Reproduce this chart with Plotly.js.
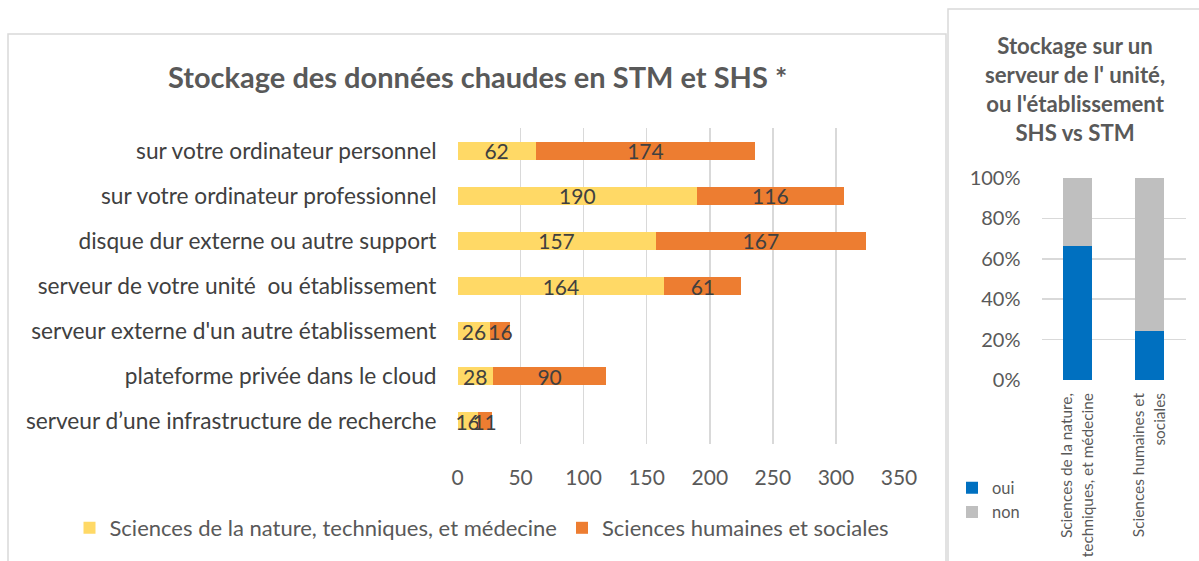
<!DOCTYPE html>
<html>
<head>
<meta charset="utf-8">
<script src="https://cdn.plot.ly/plotly-3.0.1.min.js"></script>
<style>
html,body{margin:0;padding:0;background:#fff;}
#chart{width:1199px;height:561px;}
</style>
</head>
<body>
<div id="chart"></div>
<script>
// ---- Data (left chart) ----
const categories = [
  "sur votre ordinateur personnel",
  "sur votre ordinateur professionnel",
  "disque dur externe ou autre support",
  "serveur de votre unité  ou établissement",
  "serveur externe d'un autre établissement",
  "plateforme privée dans le cloud",
  "serveur d’une infrastructure de recherche"
];
const stmValues = [62, 190, 157, 164, 26, 28, 16];
const shsValues = [174, 116, 167, 61, 16, 90, 11];
const seriesNames = ["Sciences de la nature, techniques, et médecine", "Sciences humaines et sociales"];
const xTicks = [0, 50, 100, 150, 200, 250, 300, 350];

// ---- Data (right chart) ----
const groups = ["Sciences de la nature,<br>techniques, et médecine", "Sciences humaines et<br>sociales"];
const ouiShare = [0.661, 0.243];
const nonShare = [0.339, 0.757];
const pctTicks = [0, 0.2, 0.4, 0.6, 0.8, 1.0];

const W = 1199, H = 561;
const px = x => x / W;
const py = y => 1 - y / H;

const FONT = "Lato, 'Open Sans', sans-serif";
const DARK = "#404040";
const MID = "#595959";
const GRID = "#D9D9D9";

const traces = [
  {
    type: "bar", orientation: "h", y: categories, x: stmValues, name: seriesNames[0],
    marker: {color: "#FFD966"}, text: stmValues.map(String), textposition: "inside",
    insidetextanchor: "middle", constraintext: "none", textangle: 0, cliponaxis: false,
    textfont: {family: FONT, size: 21, color: DARK},
    xaxis: "x", yaxis: "y", legend: "legend", hoverinfo: "x+name"
  },
  {
    type: "bar", orientation: "h", y: categories, x: shsValues, name: seriesNames[1],
    marker: {color: "#ED7D31"}, text: shsValues.map(String), textposition: "inside",
    insidetextanchor: "middle", constraintext: "none", textangle: 0, cliponaxis: false,
    textfont: {family: FONT, size: 21, color: DARK},
    xaxis: "x", yaxis: "y", legend: "legend", hoverinfo: "x+name"
  },
  {
    type: "bar", x: groups, y: ouiShare, name: "oui", marker: {color: "#0070C0"},
    xaxis: "x2", yaxis: "y2", legend: "legend2"
  },
  {
    type: "bar", x: groups, y: nonShare, name: "non", marker: {color: "#BFBFBF"},
    xaxis: "x2", yaxis: "y2", legend: "legend2"
  }
];

const layout = {
  width: W, height: H,
  margin: {l: 0, r: 0, t: 0, b: 0},
  paper_bgcolor: "#fff", plot_bgcolor: "#fff",
  font: {family: FONT, color: MID},
  barmode: "stack",
  bargap: 0.6,
  showlegend: true,
  xaxis: {
    domain: [px(457.5), px(899)], range: [0, 350], tickvals: xTicks,
    showgrid: true, gridcolor: GRID, gridwidth: 1.5, zeroline: false,
    showline: false, ticks: "", tickfont: {family: FONT, size: 21, color: MID},
    ticklabelstandoff: 19, anchor: "y", fixedrange: true
  },
  yaxis: {
    domain: [py(444), py(128)], type: "category", autorange: "reversed",
    showgrid: false, zeroline: false, showline: false, ticks: "",
    tickfont: {family: FONT, size: 22.7, color: DARK}, ticklabelstandoff: 20,
    anchor: "x", fixedrange: true
  },
  xaxis2: {
    domain: [px(1041.5), px(1185.5)], type: "category", showgrid: false,
    zeroline: false, showline: false, ticks: "", tickangle: -90,
    tickfont: {family: FONT, size: 15.4, color: MID}, ticklabelstandoff: 9,
    anchor: "y2", fixedrange: true
  },
  yaxis2: {
    domain: [py(380), py(178)], range: [0, 1], tickvals: pctTicks, tickformat: ".0%",
    showgrid: true, gridcolor: GRID, gridwidth: 1.5, zeroline: false, showline: false,
    ticks: "", tickfont: {family: FONT, size: 20, color: MID}, ticklabelstandoff: 20,
    anchor: "x2", fixedrange: true
  },
  legend: {
    orientation: "h", x: px(482), xanchor: "center", y: py(528), yanchor: "middle",
    font: {family: FONT, size: 22, color: MID}, itemclick: false, itemdoubleclick: false,
    traceorder: "normal", itemwidth: 30
  },
  legend2: {
    orientation: "v", x: px(952), xanchor: "left", y: py(500), yanchor: "middle",
    font: {family: FONT, size: 16.4, color: MID}, tracegroupgap: 0, traceorder: "normal",
    itemwidth: 30
  },
  annotations: [
    {
      xref: "paper", yref: "paper", x: px(477), y: py(77), xanchor: "center", yanchor: "middle",
      text: "<b>Stockage des données chaudes en STM et SHS *</b>", showarrow: false,
      font: {family: FONT, size: 29, color: MID}
    },
    {
      xref: "paper", yref: "paper", x: px(1075), y: py(89), xanchor: "center", yanchor: "middle",
      text: "<b>Stockage sur un<br>serveur de l' unité,<br>ou l'établissement<br>SHS vs STM</b>",
      showarrow: false, font: {family: FONT, size: 22.2, color: MID}
    }
  ],
  shapes: [
    {type: "rect", xref: "paper", yref: "paper", x0: px(8), x1: px(946), y0: py(34), y1: py(600),
     line: {color: GRID, width: 1.5}, fillcolor: "rgba(0,0,0,0)", layer: "below"},
    {type: "rect", xref: "paper", yref: "paper", x0: px(948), x1: px(1230), y0: py(9), y1: py(600),
     line: {color: GRID, width: 1.5}, fillcolor: "rgba(0,0,0,0)", layer: "below"}
  ]
};

Plotly.newPlot("chart", traces, layout, {displayModeBar: false, staticPlot: true});
</script>
</body>
</html>
